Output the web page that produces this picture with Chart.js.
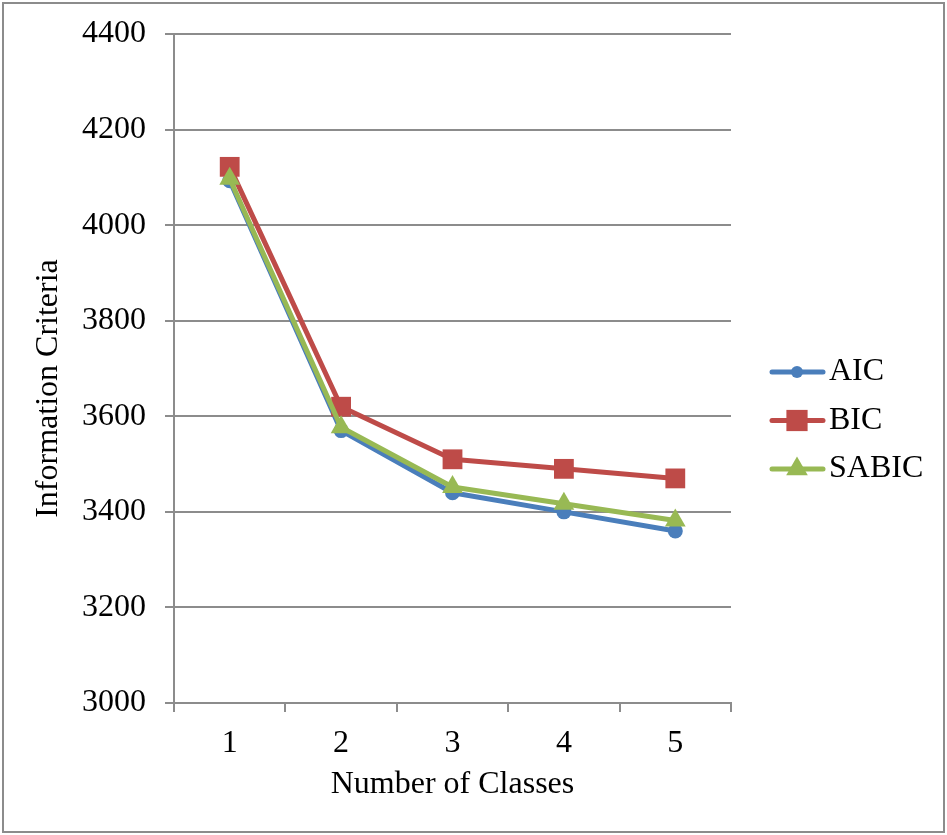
<!DOCTYPE html>
<html>
<head>
<meta charset="utf-8">
<script src="https://cdn.jsdelivr.net/npm/chart.js@4.4.0/dist/chart.umd.min.js"></script>
<style>
  html, body { margin: 0; padding: 0; background: #fff; }
  #wrap { position: relative; width: 947px; height: 835px; }
  #frame { position: absolute; left: 2px; top: 2px; width: 943px; height: 831px;
           border: 2px solid #8c8c8c; box-sizing: border-box; pointer-events: none; }
  canvas { position: absolute; left: 0; top: 0; }
</style>
</head>
<body>
<div id="wrap">
  <canvas id="chart" width="947" height="835"></canvas>
  <div id="frame"></div>
</div>
<script>
// --- DATA ---
const classes = ['1', '2', '3', '4', '5'];
const aic   = [4093, 3570, 3440, 3400, 3360];
const bic   = [4122, 3620, 3510, 3490, 3470];
const sabic = [4097, 3577, 3452, 3417, 3382];
const yMin = 3000, yMax = 4400, yStep = 200;

const FONT = '"Liberation Serif", "Times New Roman", serif';
const GRID = '#8c8c8c';

// --- MARKERS FOR THE SIDE LEGEND ---
function drawMarker(ctx, style, x, y, r, color) {
    ctx.fillStyle = color;
    ctx.beginPath();
    if (style === 'circle') {
        ctx.arc(x, y, r, 0, Math.PI * 2);
    } else if (style === 'rect') {
        const s = r * Math.SQRT1_2;
        ctx.rect(x - s, y - s, 2 * s, 2 * s);
    } else {
        const a = Math.PI * 2 / 3;
        ctx.moveTo(x, y - r);
        ctx.lineTo(x + Math.sin(a) * r, y - Math.cos(a) * r);
        ctx.lineTo(x + Math.sin(2 * a) * r, y - Math.cos(2 * a) * r);
        ctx.closePath();
    }
    ctx.fill();
}

const sideLegend = {
    id: 'sideLegend',
    afterDraw(chart) {
        const ctx = chart.ctx;
        chart.data.datasets.forEach((ds, i) => {
            const y = 372 + i * 48.5;
            ctx.save();
            ctx.strokeStyle = ds.borderColor;
            ctx.lineWidth = 5;
            ctx.lineCap = 'round';
            ctx.beginPath();
            ctx.moveTo(772, y);
            ctx.lineTo(823, y);
            ctx.stroke();
            drawMarker(ctx, ds.pointStyle, 797, y, ds.legendRadius, ds.backgroundColor);
            ctx.fillStyle = '#000';
            ctx.font = '32px ' + FONT;
            ctx.textBaseline = 'middle';
            ctx.textAlign = 'left';
            ctx.fillText(ds.label, 829, y);
            ctx.restore();
        });
    }
};

function series(label, data, color, style, radius, legendRadius, order) {
    return {
        label, data, order,
        borderColor: color,
        backgroundColor: color,
        borderWidth: 5,
        borderCapStyle: 'round',
        borderJoinStyle: 'round',
        tension: 0,
        pointStyle: style,
        pointRadius: radius,
        pointBorderWidth: 0,
        pointBackgroundColor: color,
        legendRadius
    };
}

new Chart(document.getElementById('chart'), {
    type: 'line',
    data: {
        labels: classes,
        datasets: [
            series('AIC', aic, '#4a7ebb', 'circle', 7.5, 6, 2),
            series('BIC', bic, '#be4b48', 'rect', 14, 15, 1),
            series('SABIC', sabic, '#98b954', 'triangle', 12, 12.5, 0)
        ]
    },
    options: {
        responsive: false,
        animation: false,
        layout: { padding: { top: 34, right: 216, bottom: 0, left: 0 } },
        plugins: { legend: { display: false }, tooltip: { enabled: false } },
        scales: {
            x: {
                type: 'category',
                offset: true,
                grid: { drawOnChartArea: false, drawTicks: true, tickLength: 9, color: GRID, lineWidth: 2, offset: true },
                border: { display: true, color: GRID, width: 2 },
                ticks: { color: '#000', font: { family: FONT, size: 32 }, padding: 12, maxRotation: 0 },
                title: { display: true, text: 'Number of Classes', color: '#000',
                         font: { family: FONT, size: 32 }, padding: { top: 0, bottom: 31 } },
                afterFit(scale) { scale.height = 132; scale.paddingLeft = 0; scale.paddingRight = 0; }
            },
            y: {
                min: yMin, max: yMax,
                grid: { drawTicks: true, tickLength: 9, color: GRID, lineWidth: 2 },
                border: { display: true, color: GRID, width: 2 },
                ticks: { stepSize: yStep, color: '#000', font: { family: FONT, size: 32 }, padding: 19,
                         callback: v => String(v) },
                title: { display: true, text: 'Information Criteria\u00a0\u00a0\u00a0\u00a0\u00a0', color: '#000',
                         font: { family: FONT, size: 32 }, padding: { top: 29, bottom: 0 } },
                afterFit(scale) { scale.width = 174; scale.paddingTop = 0; scale.paddingBottom = 0; }
            }
        }
    },
    plugins: [sideLegend]
});
</script>
</body>
</html>
